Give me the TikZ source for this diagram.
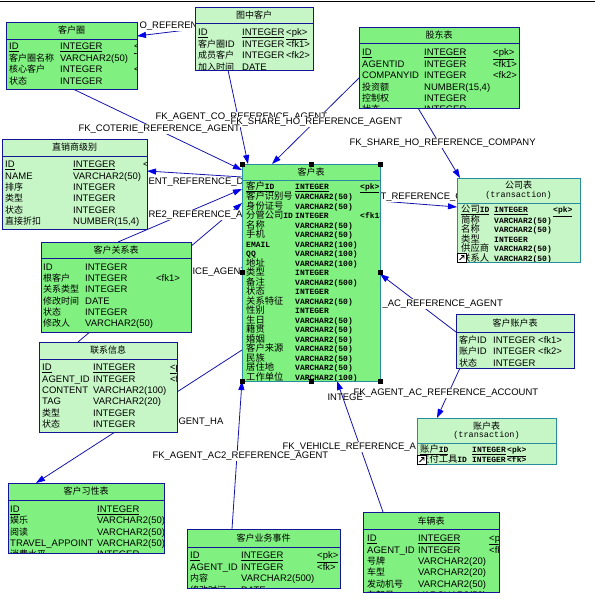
\documentclass[tikz,border=0pt]{standalone}
\usepackage{fontspec}
\setmainfont{Liberation Sans}
\newfontfamily\cjk{Noto Sans CJK SC}
\newfontfamily\monof{Liberation Mono}
\usetikzlibrary{arrows.meta,backgrounds}
\definecolor{tblgreen}{RGB}{128,240,128}
\definecolor{palegreen}{RGB}{198,246,198}
\definecolor{boxblue}{RGB}{20,20,150}
\definecolor{selteal}{RGB}{40,140,160}
\definecolor{fkblue}{RGB}{20,20,170}
\definecolor{tipblue}{RGB}{0,0,230}
\def\zh#1{\smash{\fontsize{9}{11.3}\selectfont\cjk #1}}
\def\zhm#1{\smash{\fontsize{9.3}{9.5}\selectfont\mdseries\cjk #1}}
\def\headrule#1#2#3{\draw[line width=0.9pt, #3] ([yshift=-#2pt]#1.north west) -- ([yshift=-#2pt]#1.north east);}
\def\boxclip#1{\clip ([shift={(0.5pt,-0.5pt)}]#1.north west) rectangle ([shift={(-0.5pt,0.5pt)}]#1.south east);}

\tikzset{
  tbl/.style={draw=boxblue, line width=0.9pt, inner sep=0pt, outer sep=0pt, anchor=north west},
  ttl/.style={inner sep=0pt, font=\fontsize{9}{10}\selectfont\cjk},
  sub/.style={inner sep=0pt, font=\fontsize{8.5}{9}\selectfont\monof},
  body/.style={anchor=north west, inner sep=0pt, font=\fontsize{9.5}{11.3}\selectfont},
  mbody/.style={anchor=north west, inner sep=0pt, font=\fontsize{8}{9.5}\selectfont\monof\bfseries},
  fk/.style={draw=fkblue, line width=0.8pt, -{Triangle[length=9pt,width=6pt,color=tipblue]}},
  fklabel/.style={fill=white, inner sep=0.3pt, anchor=west, font=\fontsize{9.5}{10}\selectfont},
  handle/.style={fill=black, inner sep=0pt, minimum size=5pt},
}

\begin{document}
\begin{tikzpicture}[x=1pt,y=-1pt]
	%%%%% START %%%%%
	\useasboundingbox (0,0) rectangle (595,605);
	\draw[line width=1.3pt] (0,1.5) -- (595,1.5);
	
	% 客户圈
	\node[tbl, fill=tblgreen, minimum width=131, minimum height=67] (kehuquan) at (6,22) {};
	\headrule{kehuquan}{17}{boxblue}
	\node[ttl] (kehuquan-t) at ([yshift=-8.5pt]kehuquan.north) {客户圈};
	\begin{scope}
		\boxclip{kehuquan}
		\node[body] (kehuquan-b) at (9,41.5) {\begin{tabular}{@{}p{51pt}@{}p{74pt}@{}l@{}}
			\underline{ID} & \underline{INTEGER} & \underline{<pk>}\\
			\zh{客户圈名称} & VARCHAR2(50) & \\
			\zh{核心客户} & INTEGER & <fk>\\
			\zh{状态} & INTEGER & \\
		\end{tabular}};
	\end{scope}
	
	% 图中客户
	\node[tbl, fill=palegreen, minimum width=118, minimum height=63] (tuzhong) at (195,7) {};
	\headrule{tuzhong}{16}{boxblue}
	\node[ttl] (tuzhong-t) at ([yshift=-8pt]tuzhong.north) {图中客户};
	\begin{scope}
		\boxclip{tuzhong}
		\node[body] (tuzhong-b) at (198,27.5) {\begin{tabular}{@{}p{44pt}@{}p{44pt}@{}l@{}}
			\underline{ID} & \underline{INTEGER} & \underline{<pk>}\\
			\zh{客户圈}ID & INTEGER & <fk1>\\
			\zh{成员客户} & INTEGER & <fk2>\\
			\zh{加入时间} & DATE & \\
		\end{tabular}};
	\end{scope}
	
	% 股东表
	\node[tbl, fill=tblgreen, minimum width=160, minimum height=81] (gudong) at (359,27) {};
	\headrule{gudong}{16}{boxblue}
	\node[ttl] (gudong-t) at ([yshift=-8pt]gudong.north) {股东表};
	\begin{scope}
		\boxclip{gudong}
		\node[body] (gudong-b) at (362,47.5) {\begin{tabular}{@{}p{62pt}@{}p{69pt}@{}l@{}}
			\underline{ID} & \underline{INTEGER} & \underline{<pk>}\\
			AGENTID & INTEGER & <fk1>\\
			COMPANYID & INTEGER & <fk2>\\
			\zh{投资额} & NUMBER(15,4) & \\
			\zh{控制权} & INTEGER & \\
			\zh{状态} & INTEGER & \\
		\end{tabular}};
	\end{scope}
	
	% 直销商级别
	\node[tbl, fill=palegreen, minimum width=145, minimum height=90] (zhixiao) at (2,139) {};
	\headrule{zhixiao}{17}{boxblue}
	\node[ttl] (zhixiao-t) at ([yshift=-8.5pt]zhixiao.north) {直销商级别};
	\begin{scope}
		\boxclip{zhixiao}
		\node[body] (zhixiao-b) at (5,159.8) {\begin{tabular}{@{}p{68pt}@{}p{70pt}@{}l@{}}
			\underline{ID} & \underline{INTEGER} & <pk>\\
			NAME & VARCHAR2(50) & \\
			\zh{排序} & INTEGER & \\
			\zh{类型} & INTEGER & \\
			\zh{状态} & INTEGER & \\
			\zh{直接折扣} & NUMBER(15,4) & \\
		\end{tabular}};
	\end{scope}
	
	% 客户关系表
	\node[tbl, fill=tblgreen, minimum width=150, minimum height=90] (guanxi) at (41,242) {};
	\headrule{guanxi}{16}{boxblue}
	\node[ttl] (guanxi-t) at ([yshift=-8.5pt]guanxi.north) {客户关系表};
	\begin{scope}
		\boxclip{guanxi}
		\node[body] (guanxi-b) at (43,262.2) {\begin{tabular}{@{}p{42pt}@{}p{71pt}@{}l@{}}
			ID & INTEGER & \\
			\zh{根客户} & INTEGER & <fk1>\\
			\zh{关系类型} & INTEGER & \\
			\zh{修改时间} & DATE & \\
			\zh{状态} & INTEGER & \\
			\zh{修改人} & VARCHAR2(50) & \\
		\end{tabular}};
	\end{scope}
	
	% 联系信息
	\node[tbl, fill=palegreen, minimum width=138, minimum height=90] (lianxi) at (39,342) {};
	\headrule{lianxi}{17}{boxblue}
	\node[ttl] (lianxi-t) at ([yshift=-8.5pt]lianxi.north) {联系信息};
	\begin{scope}
		\boxclip{lianxi}
		\node[body] (lianxi-b) at (42,362.2) {\begin{tabular}{@{}p{51pt}@{}p{77pt}@{}l@{}}
			\underline{ID} & \underline{INTEGER} & \underline{<pk>}\\
			AGENT\_ID & INTEGER & <fk>\\
			CONTENT & VARCHAR2(100) & \\
			TAG & VARCHAR2(20) & \\
			\zh{类型} & INTEGER & \\
			\zh{状态} & INTEGER & \\
		\end{tabular}};
	\end{scope}
	
	% 客户表
	\node[tbl, draw=selteal, fill=tblgreen, minimum width=138, minimum height=217] (kehu) at (242,164) {};
	\headrule{kehu}{16}{selteal}
	\node[ttl] (kehu-t) at ([yshift=-8pt]kehu.north) {客户表};
	\begin{scope}
		\boxclip{kehu}
		\node[mbody] (kehu-b) at (246,182.7) {\begin{tabular}{@{}p{49pt}@{}p{65pt}@{}l@{}}
			\underline{\zhm{客户}ID} & \underline{INTEGER} & \underline{<pk>}\\
			\zhm{客户识别号} & VARCHAR2(50) & \\
			\zhm{身份证号} & VARCHAR2(50) & \\
			\zhm{分管公司}ID & INTEGER & <fk1>\\
			\zhm{名称} & VARCHAR2(50) & \\
			\zhm{手机} & VARCHAR2(50) & \\
			EMAIL & VARCHAR2(100) & \\
			QQ & VARCHAR2(100) & \\
			\zhm{地址} & VARCHAR2(100) & \\
			\zhm{类型} & INTEGER & \\
			\zhm{备注} & VARCHAR2(500) & \\
			\zhm{状态} & INTEGER & \\
			\zhm{关系特征} & VARCHAR2(50) & \\
			\zhm{性别} & INTEGER & \\
			\zhm{生日} & VARCHAR2(50) & \\
			\zhm{籍贯} & VARCHAR2(50) & \\
			\zhm{婚姻} & VARCHAR2(50) & \\
			\zhm{客户来源} & VARCHAR2(50) & \\
			\zhm{民族} & VARCHAR2(50) & \\
			\zhm{居住地} & VARCHAR2(50) & \\
			\zhm{工作单位} & VARCHAR2(100) & \\
		\end{tabular}};
	\end{scope}
	\node[handle] (h1) at (kehu.north west) {};
	\node[handle] (h2) at (kehu.north) {};
	\node[handle] (h3) at (kehu.north east) {};
	\node[handle] (h4) at ([yshift=-108pt]kehu.north west) {};
	\node[handle] (h5) at ([yshift=-108pt]kehu.north east) {};
	\node[handle] (h6) at (kehu.south west) {};
	\node[handle] (h7) at (kehu.south) {};
	\node[handle] (h8) at (kehu.south east) {};
	
	% 公司表
	\node[tbl, draw=selteal, fill=palegreen, minimum width=123, minimum height=84] (gongsi) at (457,178) {};
	\headrule{gongsi}{25}{selteal}
	\node[ttl] (gongsi-t) at ([yshift=-7pt]gongsi.north) {公司表};
	\node[sub] (gongsi-s) at ([yshift=-17pt]gongsi.north) {(transaction)};
	\begin{scope}
		\boxclip{gongsi}
		\node[mbody] (gongsi-b) at (461,206) {\begin{tabular}{@{}p{33pt}@{}p{59pt}@{}l@{}}
			\underline{\zhm{公司}ID} & \underline{INTEGER} & \underline{<pk>}\\
			\zhm{简称} & VARCHAR2(50) & \\
			\zhm{名称} & VARCHAR2(50) & \\
			\zhm{类型} & INTEGER & \\
			\zhm{供应商} & VARCHAR2(50) & \\
			\zhm{联系人} & VARCHAR2(50) & \\
		\end{tabular}};
	\end{scope}
	\draw[fill=white, line width=0.6pt] (457.5,253.5) rectangle (466,262);
	\draw[line width=0.8pt] (459.5,260) -- (464,255.5) (461,255.5) -- (464,255.5) -- (464,258.5);
	
	% 客户账户表
	\node[tbl, fill=palegreen, minimum width=118, minimum height=54] (zhanghukh) at (456,314) {};
	\headrule{zhanghukh}{18}{boxblue}
	\node[ttl] (zhanghukh-t) at ([yshift=-9pt]zhanghukh.north) {客户账户表};
	\begin{scope}
		\boxclip{zhanghukh}
		\node[body] (zhanghukh-b) at (459,335.5) {\begin{tabular}{@{}p{34pt}@{}p{45pt}@{}l@{}}
			\zh{客户}ID & INTEGER & <fk1>\\
			\zh{账户}ID & INTEGER & <fk2>\\
			\zh{状态} & INTEGER & \\
		\end{tabular}};
	\end{scope}
	
	% 账户表
	\node[tbl, draw=selteal, fill=palegreen, minimum width=139, minimum height=46] (zhanghu) at (417,418) {};
	\headrule{zhanghu}{25}{selteal}
	\node[ttl] (zhanghu-t) at ([yshift=-8pt]zhanghu.north) {账户表};
	\node[sub] (zhanghu-s) at ([yshift=-17pt]zhanghu.north) {(transaction)};
	\begin{scope}
		\boxclip{zhanghu}
		\node[mbody, font=\fontsize{8}{8.5}\selectfont\monof\bfseries] (zhanghu-b) at (420,446.5) {\begin{tabular}{@{}p{52pt}@{}p{35pt}@{}l@{}}
			\underline{\zhm{账户}ID} & \underline{INTEGER} & \underline{<pk>}\\
			\zhm{支付工具}ID & INTEGER & <fk>\\
		\end{tabular}};
	\end{scope}
	\draw[fill=white, line width=0.6pt] (417.5,455.5) rectangle (426,464);
	\draw[line width=0.8pt] (419.5,462) -- (424,457.5) (421,457.5) -- (424,457.5) -- (424,460.5);
	
	% 客户习性表
	\node[tbl, fill=tblgreen, minimum width=156, minimum height=70] (xixing) at (8,483) {};
	\headrule{xixing}{17}{boxblue}
	\node[ttl] (xixing-t) at ([yshift=-8.5pt]xixing.north) {客户习性表};
	\begin{scope}
		\boxclip{xixing}
		\node[body] (xixing-b) at (10,504.5) {\begin{tabular}{@{}p{87pt}@{}l@{}}
			\underline{ID} & \underline{INTEGER}\\
			\zh{娱乐} & VARCHAR2(50)\\
			\zh{阅读} & VARCHAR2(50)\\
			TRAVEL\_APPOINT & VARCHAR2(50)\\
			\zh{消费水平} & INTEGER\\
		\end{tabular}};
	\end{scope}
	
	% 客户业务事件
	\node[tbl, fill=tblgreen, minimum width=153, minimum height=59] (yewu) at (187,529) {};
	\headrule{yewu}{18}{boxblue}
	\node[ttl] (yewu-t) at ([yshift=-9pt]yewu.north) {客户业务事件};
	\begin{scope}
		\boxclip{yewu}
		\node[body] (yewu-b) at (190,550.5) {\begin{tabular}{@{}p{51pt}@{}p{76pt}@{}l@{}}
			\underline{ID} & \underline{INTEGER} & \underline{<pk>}\\
			AGENT\_ID & INTEGER & <fk>\\
			\zh{内容} & VARCHAR2(500) & \\
			\zh{修改时间} & DATE & \\
		\end{tabular}};
	\end{scope}
	
	% 车辆表
	\node[tbl, fill=tblgreen, minimum width=136, minimum height=80] (cheliang) at (363,512) {};
	\headrule{cheliang}{17}{boxblue}
	\node[ttl] (cheliang-t) at ([yshift=-9pt]cheliang.north) {车辆表};
	\begin{scope}
		\boxclip{cheliang}
		\node[body] (cheliang-b) at (367,533.2) {\begin{tabular}{@{}p{51pt}@{}p{71pt}@{}l@{}}
			\underline{ID} & \underline{INTEGER} & \underline{<pk>}\\
			AGENT\_ID & INTEGER & <fk>\\
			\zh{号牌} & VARCHAR2(20) & \\
			\zh{车型} & VARCHAR2(20) & \\
			\zh{发动机号} & VARCHAR2(50) & \\
			\zh{车架号} & VARCHAR2(50) & \\
		\end{tabular}};
	\end{scope}
	
	% references
	\begin{pgfonlayer}{background}
		\draw[fk] ([yshift=-22pt]tuzhong.north west) -- ([yshift=-14pt]kehuquan.north east);
		\draw[fk] ([xshift=33pt]tuzhong.south west) -- ([xshift=6pt]kehu.north west);
		\draw[fk] ([xshift=67pt]kehuquan.south west) -- ([yshift=-6pt]kehu.north west);
		\draw[fk] ([yshift=-51pt]gudong.north west) -- ([xshift=30pt]kehu.north west);
		\draw[fk] ([xshift=59pt]gudong.south west) -- ([xshift=3pt]gongsi.north west);
		\draw[fk] ([yshift=-13pt]kehu.north west) -- ([yshift=-32pt]zhixiao.north east);
		\draw[fk] ([xshift=77pt]guanxi.north west) -- ([yshift=-25pt]kehu.north west);
		\draw[fk] ([xshift=39pt]lianxi.north west) -- ([yshift=-39pt]kehu.north west);
		\draw[fk] ([yshift=-186pt]kehu.north west) -- ([xshift=28pt]xixing.north west);
		\draw[fk] ([xshift=45pt]yewu.north west) -- (kehu.south west);
		\draw[fk] ([xshift=20pt]cheliang.north west) -- ([xshift=95pt]kehu.south west);
		\draw[fk] ([yshift=-18pt]zhanghukh.north west) -- ([yshift=-110pt]kehu.north east);
		\draw[fk] ([xshift=4pt]zhanghukh.south west) -- ([xshift=20pt]zhanghu.north west);
		\draw[fk] ([yshift=-37pt]kehu.north east) -- ([yshift=-29pt]gongsi.north west);
		
		\node[fklabel] (l-co) at (139,26) {O\_REFERENCE};
		\node[fklabel] (l-agentco) at (155,117) {FK\_AGENT\_CO\_REFERENCE\_AGENT};
		\node[fklabel] (l-shareag) at (230,122) {FK\_SHARE\_HO\_REFERENCE\_AGENT};
		\node[fklabel] (l-coterie) at (78,129) {FK\_COTERIE\_REFERENCE\_AGENT};
		\node[fklabel] (l-sharecp) at (349,143) {FK\_SHARE\_HO\_REFERENCE\_COMPANY};
		\node[fklabel] (l-di) at (148,182) {ENT\_REFERENCE\_DI};
		\node[fklabel] (l-company) at (380,197) {T\_REFERENCE\_C};
		\node[fklabel] (l-re2) at (148,215) {RE2\_REFERENCE\_A};
		\node[fklabel] (l-service) at (192,272) {ICE\_AGENT};
		\node[fklabel] (l-acagent) at (382,304) {\_AC\_REFERENCE\_AGENT};
		\node[fklabel] (l-account) at (353,393) {FK\_AGENT\_AC\_REFERENCE\_ACCOUNT};
		\node[fklabel, fill=none] (l-integer) at (327,397) {INTEGE};
		\node[fklabel] (l-habit) at (178,422) {GENT\_HA};
		\node[fklabel] (l-vehicle) at (282,447) {FK\_VEHICLE\_REFERENCE\_A};
		\node[fklabel] (l-ac2) at (152,456) {FK\_AGENT\_AC2\_REFERENCE\_AGENT};
	\end{pgfonlayer}
	%%%%% END %%%%%
\end{tikzpicture}
\end{document}
